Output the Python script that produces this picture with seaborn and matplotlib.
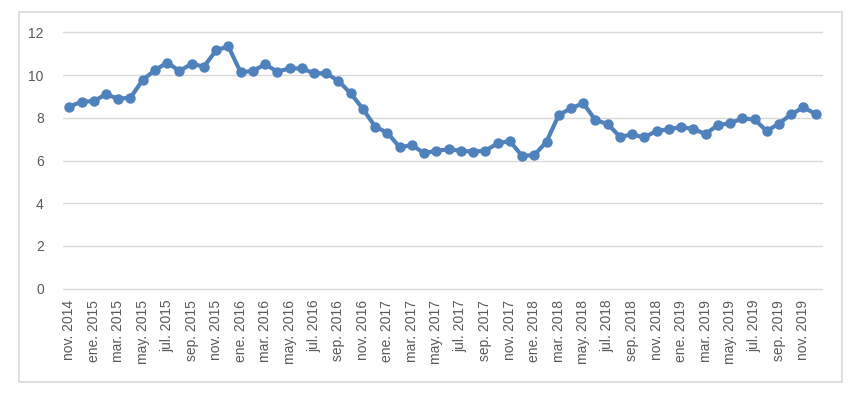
import pandas as pd
import matplotlib.pyplot as plt
import seaborn as sns
from matplotlib.patches import Rectangle

# monthly series, nov 2014 .. dec 2019
months_es = ['ene.', 'feb.', 'mar.', 'abr.', 'may.', 'jun.',
             'jul.', 'ago.', 'sep.', 'oct.', 'nov.', 'dic.']
start_year = 2014
start_month = 11  # november

values = [8.52, 8.75, 8.78, 9.10, 8.89, 8.94, 9.77, 10.23, 10.58, 10.19,
          10.53, 10.39, 11.16, 11.34, 10.13, 10.19, 10.50, 10.16, 10.31, 10.31,
          10.08, 10.08, 9.72, 9.14, 8.41, 7.58, 7.30, 6.62, 6.72, 6.34,
          6.46, 6.52, 6.46, 6.41, 6.46, 6.80, 6.91, 6.22, 6.25, 6.88,
          8.13, 8.44, 8.68, 7.89, 7.71, 7.11, 7.22, 7.08, 7.39, 7.46,
          7.57, 7.47, 7.24, 7.66, 7.74, 7.97, 7.92, 7.38, 7.73, 8.16,
          8.49, 8.18]

labels = []
for i in range(len(values)):
    m = (start_month - 1 + i) % 12
    y = start_year + (start_month - 1 + i) // 12
    labels.append(f"{months_es[m]} {y}")

df = pd.DataFrame({'pos': range(len(values)), 'valor': values, 'mes': labels})

sns.set_theme(style='white')
plt.rcParams['font.family'] = ['Liberation Sans', 'DejaVu Sans']

fig = plt.figure(figsize=(8.64, 3.97), dpi=100)
ax = fig.add_axes([63.2 / 864, 1 - 288.7 / 397, (821.8 - 63.2) / 864, (288.7 - 32.3) / 397])

sns.lineplot(data=df, x='pos', y='valor', ax=ax, color='#4F81BD', linewidth=3,
             marker='o', markersize=7.5, markeredgewidth=0, zorder=3)

ax.set_xlim(-0.5, len(values) - 0.5)
ax.set_ylim(0, 12)
ax.set_yticks(range(0, 13, 2))
ax.set_xticks(df['pos'][::2])
ax.set_xticklabels(df['mes'][::2], rotation=90)
ax.tick_params(axis='both', length=0, labelsize=10, labelcolor='#595959')
ax.tick_params(axis='y', pad=14)
ax.tick_params(axis='x', pad=8)
ax.grid(axis='y', color='#D9D9D9', linewidth=1)
for gl in ax.get_ygridlines():
    gl.set_clip_on(False)
ax.set_axisbelow(True)
for s in ax.spines.values():
    s.set_visible(False)
ax.set_xlabel('')
ax.set_ylabel('')

fig.patches.append(Rectangle((18.5 / 864, 1 - 381.7 / 397), (841.7 - 18.5) / 864,
                             (381.7 - 12) / 397, transform=fig.transFigure,
                             fill=False, edgecolor='#D9D9D9', linewidth=1.2))

fig.savefig('out.png', dpi=100)
